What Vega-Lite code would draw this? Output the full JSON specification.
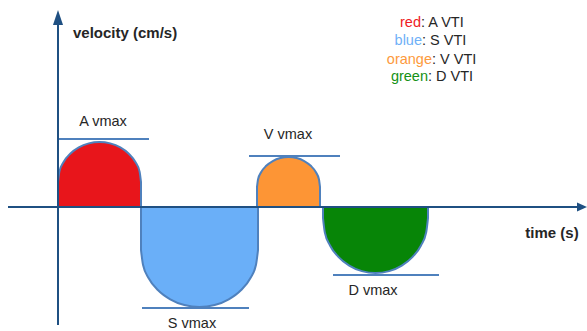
{
  "$schema": "https://vega.github.io/schema/vega-lite/v6.json",
  "width": 587,
  "height": 331,
  "autosize": {"type": "fit", "contains": "padding"},
  "padding": 0,
  "background": "white",
  "config": {"view": {"stroke": null}, "text": {"font": "Liberation Sans"}},
  "datasets": {
    "shapes": [
      {"shape": "A", "x": 58, "v": 25}, {"shape": "A", "x": 59.4, "v": 35.4}, {"shape": "A", "x": 63.6, "v": 45}, {"shape": "A", "x": 70.2, "v": 53.3}, {"shape": "A", "x": 78.8, "v": 59.6}, {"shape": "A", "x": 88.8, "v": 63.6}, {"shape": "A", "x": 99.5, "v": 65}, {"shape": "A", "x": 110.2, "v": 63.6}, {"shape": "A", "x": 120.3, "v": 59.6}, {"shape": "A", "x": 128.8, "v": 53.3}, {"shape": "A", "x": 135.4, "v": 45}, {"shape": "A", "x": 139.6, "v": 35.4}, {"shape": "A", "x": 141, "v": 25},
      {"shape": "S", "x": 141, "v": -43}, {"shape": "S", "x": 143, "v": -57.75}, {"shape": "S", "x": 148.84, "v": -71.5}, {"shape": "S", "x": 158.13, "v": -83.3}, {"shape": "S", "x": 170.25, "v": -92.36}, {"shape": "S", "x": 184.36, "v": -98.06}, {"shape": "S", "x": 199.5, "v": -100}, {"shape": "S", "x": 214.64, "v": -98.06}, {"shape": "S", "x": 228.75, "v": -92.36}, {"shape": "S", "x": 240.87, "v": -83.3}, {"shape": "S", "x": 250.16, "v": -71.5}, {"shape": "S", "x": 256, "v": -57.75}, {"shape": "S", "x": 258, "v": -43},
      {"shape": "V", "x": 257, "v": 20}, {"shape": "V", "x": 258.07, "v": 27.76}, {"shape": "V", "x": 261.22, "v": 35}, {"shape": "V", "x": 266.23, "v": 41.21}, {"shape": "V", "x": 272.75, "v": 45.98}, {"shape": "V", "x": 280.35, "v": 48.98}, {"shape": "V", "x": 288.5, "v": 50}, {"shape": "V", "x": 296.65, "v": 48.98}, {"shape": "V", "x": 304.25, "v": 45.98}, {"shape": "V", "x": 310.77, "v": 41.21}, {"shape": "V", "x": 315.78, "v": 35}, {"shape": "V", "x": 318.93, "v": 27.76}, {"shape": "V", "x": 320, "v": 20},
      {"shape": "D", "x": 323, "v": -11}, {"shape": "D", "x": 324.79, "v": -25.23}, {"shape": "D", "x": 330.03, "v": -38.5}, {"shape": "D", "x": 338.38, "v": -49.89}, {"shape": "D", "x": 349.25, "v": -58.63}, {"shape": "D", "x": 361.91, "v": -64.13}, {"shape": "D", "x": 375.5, "v": -66}, {"shape": "D", "x": 389.09, "v": -64.13}, {"shape": "D", "x": 401.75, "v": -58.63}, {"shape": "D", "x": 412.62, "v": -49.89}, {"shape": "D", "x": 420.97, "v": -38.5}, {"shape": "D", "x": 426.21, "v": -25.23}, {"shape": "D", "x": 428, "v": -11}
    ],
    "vmax": [
      {"x": 58, "x2": 149, "v": 68},
      {"x": 142, "x2": 249, "v": -101},
      {"x": 249, "x2": 340, "v": 51},
      {"x": 333, "x2": 439, "v": -68}
    ],
    "axes": [
      {"x": 58, "x2": 58, "v": -118, "v2": 188},
      {"x": 8, "x2": 579, "v": 0, "v2": 0}
    ],
    "arrowUp": [{"x": 58, "v": 189.5}],
    "arrowRight": [{"x": 582, "v": 0}],
    "labels": [
      {"text": "A vmax", "x": 103, "v": 85},
      {"text": "V vmax", "x": 288, "v": 72},
      {"text": "S vmax", "x": 192, "v": -117},
      {"text": "D vmax", "x": 373, "v": -84}
    ],
    "titleLeft": [{"text": "velocity (cm/s)", "x": 73, "v": 174}],
    "titleCenter": [{"text": "time (s)", "x": 552, "v": -26}],
    "legendWords": [
      {"word": "red", "rest": ": A VTI", "x": 421, "v": 184},
      {"word": "blue", "rest": ": S VTI", "x": 422, "v": 166},
      {"word": "orange", "rest": ": V VTI", "x": 432, "v": 147},
      {"word": "green", "rest": ": D VTI", "x": 428, "v": 130}
    ]
  },
  "layer": [
    {
      "data": {"name": "shapes"},
      "mark": {"type": "area", "stroke": "#4f81bd", "strokeWidth": 2, "fillOpacity": 1, "interpolate": "monotone"},
      "encoding": {
        "x": {"field": "x", "type": "quantitative", "scale": {"domain": [0, 587], "nice": false, "zero": false}, "axis": null},
        "y": {"field": "v", "type": "quantitative", "scale": {"domain": [-124, 207], "nice": false, "zero": false}, "axis": null, "stack": null},
        "y2": {"datum": 0},
        "color": {"field": "shape", "type": "nominal", "scale": {"domain": ["A", "S", "V", "D"], "range": ["#e8151b", "#6aaff8", "#fd9535", "#078507"]}, "legend": null}
      }
    },
    {
      "data": {"name": "vmax"},
      "mark": {"type": "rule", "color": "#4f81bd", "strokeWidth": 2},
      "encoding": {
        "x": {"field": "x", "type": "quantitative"},
        "x2": {"field": "x2"},
        "y": {"field": "v", "type": "quantitative"}
      }
    },
    {
      "data": {"name": "axes"},
      "mark": {"type": "rule", "color": "#1f5082", "strokeWidth": 2},
      "encoding": {
        "x": {"field": "x", "type": "quantitative"},
        "x2": {"field": "x2"},
        "y": {"field": "v", "type": "quantitative"},
        "y2": {"field": "v2"}
      }
    },
    {
      "data": {"name": "arrowUp"},
      "mark": {"type": "point", "filled": true, "opacity": 1, "fill": "#1f5082", "strokeWidth": 0, "shape": "M-0.67,1L0,-1L0.67,1Z", "size": 225},
      "encoding": {
        "x": {"field": "x", "type": "quantitative"},
        "y": {"field": "v", "type": "quantitative"}
      }
    },
    {
      "data": {"name": "arrowRight"},
      "mark": {"type": "point", "filled": true, "opacity": 1, "fill": "#1f5082", "strokeWidth": 0, "shape": "M-1,-0.9L1,0L-1,0.9Z", "size": 100},
      "encoding": {
        "x": {"field": "x", "type": "quantitative"},
        "y": {"field": "v", "type": "quantitative"}
      }
    },
    {
      "data": {"name": "labels"},
      "mark": {"type": "text", "fontSize": 14.5, "color": "#262626", "align": "center", "baseline": "middle"},
      "encoding": {
        "x": {"field": "x", "type": "quantitative"},
        "y": {"field": "v", "type": "quantitative"},
        "text": {"field": "text"}
      }
    },
    {
      "data": {"name": "titleLeft"},
      "mark": {"type": "text", "fontSize": 15, "fontWeight": "bold", "color": "#262626", "align": "left", "baseline": "middle"},
      "encoding": {
        "x": {"field": "x", "type": "quantitative"},
        "y": {"field": "v", "type": "quantitative"},
        "text": {"field": "text"}
      }
    },
    {
      "data": {"name": "titleCenter"},
      "mark": {"type": "text", "fontSize": 15, "fontWeight": "bold", "color": "#262626", "align": "center", "baseline": "middle"},
      "encoding": {
        "x": {"field": "x", "type": "quantitative"},
        "y": {"field": "v", "type": "quantitative"},
        "text": {"field": "text"}
      }
    },
    {
      "data": {"name": "legendWords"},
      "mark": {"type": "text", "fontSize": 14.5, "align": "right", "baseline": "middle"},
      "encoding": {
        "x": {"field": "x", "type": "quantitative"},
        "y": {"field": "v", "type": "quantitative"},
        "text": {"field": "word"},
        "color": {"field": "word", "type": "nominal", "scale": {"domain": ["red", "blue", "orange", "green"], "range": ["#ee1c24", "#6fb1f7", "#fd9a3d", "#159115"]}, "legend": null}
      }
    },
    {
      "data": {"name": "legendWords"},
      "mark": {"type": "text", "fontSize": 14.5, "align": "left", "baseline": "middle", "color": "#262626"},
      "encoding": {
        "x": {"field": "x", "type": "quantitative"},
        "y": {"field": "v", "type": "quantitative"},
        "text": {"field": "rest"}
      }
    }
  ],
  "resolve": {"scale": {"color": "independent"}}
}
